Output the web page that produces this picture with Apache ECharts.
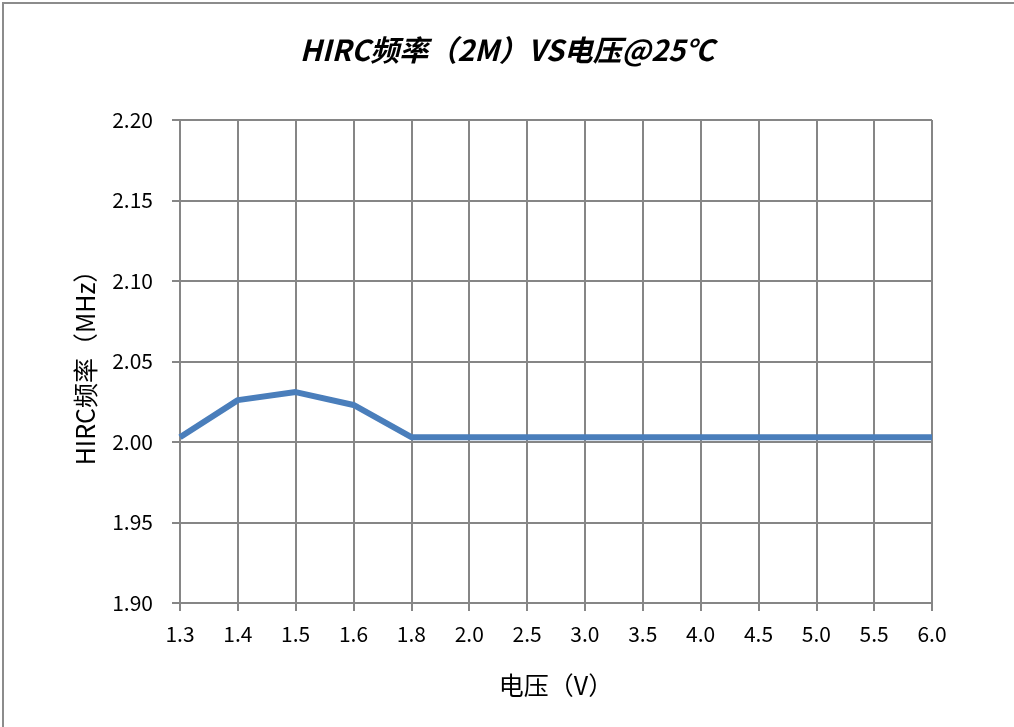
<!DOCTYPE html>
<html>
<head>
<meta charset="utf-8">
<script src="https://cdn.jsdelivr.net/npm/echarts@6/dist/echarts.min.js"></script>
<style>
html,body{margin:0;padding:0;background:#fff;}
#frame{position:absolute;left:2px;top:2px;width:1030px;height:740px;border-top:2px solid #8c8c8c;border-left:2px solid #8c8c8c;}
#chart{position:absolute;left:0;top:0;width:1014px;height:727px;}
</style>
</head>
<body>
<div id="frame"></div>
<div id="chart"></div>
<script>
const titleText = 'HIRC频率（2M）VS电压@25℃';
const xName = '电压（V）';
const yName = 'HIRC频率（MHz）';
const voltages = ['1.3','1.4','1.5','1.6','1.8','2.0','2.5','3.0','3.5','4.0','4.5','5.0','5.5','6.0'];
const freqMHz = [2.003, 2.026, 2.031, 2.023, 2.003, 2.003, 2.003, 2.003, 2.003, 2.003, 2.003, 2.003, 2.003, 2.003];
const yMin = 1.90, yMax = 2.20, yStep = 0.05;

const chart = echarts.init(document.getElementById('chart'), null, {renderer: 'canvas'});
const gridColor = '#868686';
const font = '"Noto Sans CJK SC", "Noto Sans", sans-serif';
chart.setOption({
  backgroundColor: 'transparent',
  animation: false,
  title: {
    text: titleText,
    left: 'center',
    top: 30,
    textStyle: {fontFamily: font, fontSize: 29, fontWeight: 'bold', fontStyle: 'italic', color: '#000'}
  },
  grid: {left: 180, right: 82, top: 120, bottom: 124, containLabel: false},
  xAxis: {
    type: 'category',
    data: voltages,
    boundaryGap: false,
    name: xName,
    nameLocation: 'middle',
    nameGap: 70,
    nameTextStyle: {fontFamily: font, fontSize: 25, color: '#000'},
    axisLine: {show: true, lineStyle: {color: gridColor, width: 2}},
    axisTick: {show: true, length: 8, lineStyle: {color: gridColor, width: 2}},
    axisLabel: {fontFamily: font, fontSize: 21, color: '#000', margin: 21},
    splitLine: {show: true, lineStyle: {color: gridColor, width: 2}}
  },
  yAxis: {
    type: 'value',
    min: yMin, max: yMax, interval: yStep,
    name: yName,
    nameLocation: 'middle',
    nameGap: 82,
    nameTextStyle: {fontFamily: font, fontSize: 25, color: '#000'},
    axisLine: {show: true, lineStyle: {color: gridColor, width: 2}},
    axisTick: {show: true, length: 8, lineStyle: {color: gridColor, width: 2}},
    axisLabel: {fontFamily: font, fontSize: 21, color: '#000', margin: 27, formatter: v => v.toFixed(2)},
    splitLine: {show: true, lineStyle: {color: gridColor, width: 2}}
  },
  series: [{
    type: 'line',
    data: freqMHz,
    symbol: 'none',
    lineStyle: {color: '#4a7ebb', width: 6},
    itemStyle: {color: '#4a7ebb'}
  }]
});
</script>
</body>
</html>
